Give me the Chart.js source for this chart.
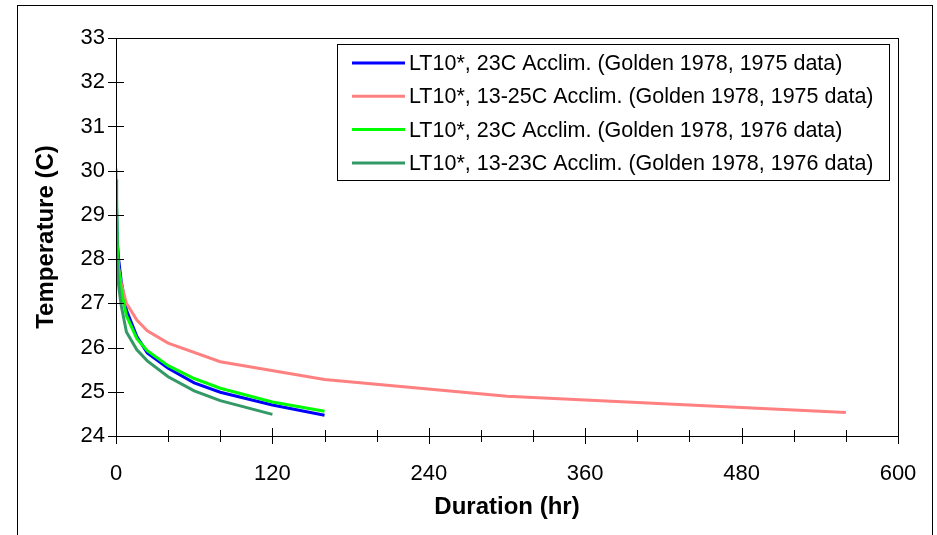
<!DOCTYPE html>
<html>
<head>
<meta charset="utf-8">
<script src="https://cdn.jsdelivr.net/npm/chart.js@4.4.1/dist/chart.umd.min.js"></script>
<style>
  html, body { margin: 0; padding: 0; background: #ffffff; }
  #wrap { width: 937px; height: 535px; position: relative; }
</style>
</head>
<body>
<div id="wrap"><canvas id="lt10Chart"></canvas></div>
<script>
const FONT = "'Liberation Sans', Arial, sans-serif";

// durations (hr) and LT10 temperatures (C)
const hours23C75 = [0, 1, 2, 4, 8, 16, 24, 40, 60, 80, 120, 160];
const temp23C75 = [29.7, 28.4, 28.0, 27.5, 26.85, 26.25, 25.88, 25.53, 25.2, 24.99, 24.7, 24.47];

const hours1325C75 = [0, 1, 2, 4, 8, 16, 24, 40, 80, 160, 300, 560];
const temp1325C75 = [28.8, 28.1, 27.8, 27.45, 27.0, 26.62, 26.38, 26.1, 25.68, 25.28, 24.9, 24.53];

const hours23C76 = [0, 1, 2, 4, 8, 16, 24, 40, 60, 80, 120, 160];
const temp23C76 = [30.05, 28.3, 27.8, 27.3, 26.72, 26.2, 25.93, 25.59, 25.3, 25.08, 24.77, 24.56];

const hours1323C76 = [0, 0.5, 1, 2, 4, 8, 16, 24, 40, 60, 80, 120];
const temp1323C76 = [29.8, 28.2, 27.8, 27.4, 26.95, 26.35, 25.95, 25.7, 25.34, 25.02, 24.8, 24.49];

const seriesLabels = [
  'LT10*, 23C Acclim. (Golden 1978, 1975 data)',
  'LT10*, 13-25C Acclim. (Golden 1978, 1975 data)',
  'LT10*, 23C Acclim. (Golden 1978, 1976 data)',
  'LT10*, 13-23C Acclim. (Golden 1978, 1976 data)'
];
const seriesColors = ['#0000ff', '#ff8080', '#00ff00', '#339966'];

const xTickMin = 0, xTickMax = 600, xMinorStep = 40, xLabelStep = 120;
const yTickMin = 24, yTickMax = 33, yStep = 1;

function pairs(xs, ys) {
  return xs.map((x, i) => ({ x: x, y: ys[i] }));
}

const seriesData = [
  pairs(hours23C75, temp23C75),
  pairs(hours1325C75, temp1325C75),
  pairs(hours23C76, temp23C76),
  pairs(hours1323C76, temp1323C76)
];

// outer frame, plot box and tick marks crossing the axes
const framePlugin = {
  id: 'frame',
  beforeDraw(chart) {
    const ctx = chart.ctx;
    ctx.save();
    ctx.fillStyle = '#ffffff';
    ctx.fillRect(0, 0, chart.width, chart.height);
    ctx.strokeStyle = '#000000';
    ctx.lineWidth = 1;
    ctx.strokeRect(17.5, 5.5, 915, 545);
    ctx.restore();
  },
  afterDraw(chart) {
    const ctx = chart.ctx;
    const a = chart.chartArea;
    const xs = chart.scales.x;
    const ys = chart.scales.y;
    ctx.save();
    ctx.strokeStyle = '#000000';
    ctx.lineWidth = 1;
    ctx.strokeRect(Math.round(a.left) + 0.5, Math.round(a.top) + 0.5,
      Math.round(a.right - a.left), Math.round(a.bottom - a.top));
    ctx.beginPath();
    xs.ticks.forEach(t => {
      const px = Math.round(xs.getPixelForValue(t.value)) + 0.5;
      const len = t.value % xLabelStep === 0 ? 8 : 6;
      ctx.moveTo(px, a.bottom - len);
      ctx.lineTo(px, a.bottom + len);
    });
    ys.ticks.forEach(t => {
      const py = Math.round(ys.getPixelForValue(t.value)) + 0.5;
      ctx.moveTo(a.left - 8, py);
      ctx.lineTo(a.left + 8, py);
    });
    ctx.stroke();

    // legend box
    const bx = 337.5, by = 44.5, bw = 552, bh = 136;
    ctx.fillStyle = '#ffffff';
    ctx.fillRect(bx, by, bw, bh);
    ctx.strokeRect(bx, by, bw, bh);
    ctx.font = '21.5px ' + FONT;
    ctx.textBaseline = 'middle';
    ctx.textAlign = 'left';
    chart.data.datasets.forEach((ds, i) => {
      const yy = 63 + i * 33.3;
      ctx.strokeStyle = ds.borderColor;
      ctx.lineWidth = 3;
      ctx.beginPath();
      ctx.moveTo(352, yy);
      ctx.lineTo(405, yy);
      ctx.stroke();
      ctx.fillStyle = '#000000';
      ctx.fillText(ds.label, 409, yy + 1);
    });
    ctx.restore();
  }
};

new Chart(document.getElementById('lt10Chart'), {
  type: 'line',
  data: {
    datasets: seriesData.map((d, i) => ({
      label: seriesLabels[i],
      data: d,
      borderColor: seriesColors[i],
      backgroundColor: seriesColors[i],
      borderWidth: 3,
      pointRadius: 0,
      tension: 0,
      fill: false,
      order: 3 - i
    }))
  },
  options: {
    responsive: true,
    maintainAspectRatio: false,
    animation: false,
    layout: { padding: { top: 38, right: 39, left: 0, bottom: 0 } },
    plugins: {
      legend: { display: false },
      tooltip: { enabled: false }
    },
    scales: {
      x: {
        type: 'linear',
        min: xTickMin,
        max: xTickMax,
        afterFit(scale) {
          scale.height = 99;
          scale.paddingLeft = 0;
          scale.paddingRight = 0;
        },
        ticks: {
          stepSize: xMinorStep,
          autoSkip: false,
          maxRotation: 0,
          padding: 25,
          color: '#000000',
          font: { family: FONT, size: 22 },
          callback: v => (v % xLabelStep === 0 ? v : '')
        },
        grid: { drawOnChartArea: false, drawTicks: false },
        border: { color: '#000000', width: 1 },
        title: {
          display: true,
          text: 'Duration (hr)',
          color: '#000000',
          font: { family: FONT, size: 24, weight: 'bold' },
          padding: { top: 0, bottom: 13 }
        }
      },
      y: {
        min: yTickMin,
        max: yTickMax,
        afterFit(scale) {
          scale.width = 116;
          scale.paddingTop = 0;
          scale.paddingBottom = 0;
        },
        ticks: {
          stepSize: yStep,
          padding: 11,
          color: '#000000',
          font: { family: FONT, size: 22 }
        },
        grid: { drawOnChartArea: false, drawTicks: false },
        border: { color: '#000000', width: 1 },
        title: {
          display: true,
          text: 'Temperature (C)',
          color: '#000000',
          font: { family: FONT, size: 24, weight: 'bold' },
          padding: { top: 32, bottom: 0 }
        }
      }
    }
  },
  plugins: [framePlugin]
});
</script>
</body>
</html>
